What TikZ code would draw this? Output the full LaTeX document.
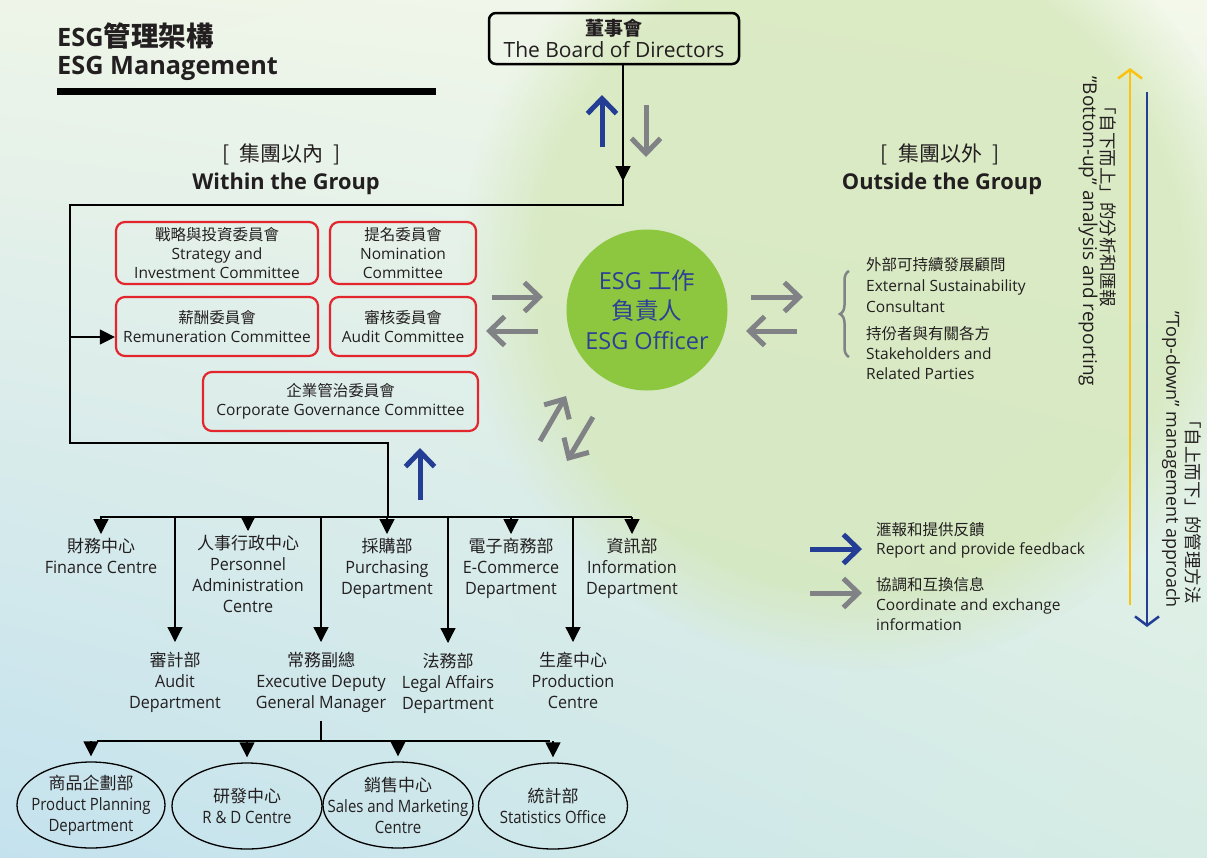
\documentclass[tikz,border=0pt]{standalone}
\usepackage{fontspec}
\setmainfont{Open Sans}
\newfontfamily\cjk{Noto Sans CJK TC}
\newfontfamily\cond{Open Sans}[FakeStretch=0.95]
\newfontfamily\condx{Open Sans}[FakeStretch=0.88]
\usetikzlibrary{arrows.meta,shapes.geometric,decorations.pathreplacing,fadings,shadings}
\definecolor{txt}{HTML}{231F20}
\definecolor{cred}{HTML}{E3262D}
\definecolor{garr}{HTML}{808285}
\definecolor{barr}{HTML}{233E94}
\definecolor{esggreen}{HTML}{8DC63F}
\definecolor{esgblue}{HTML}{2E3F96}
\definecolor{ylw}{HTML}{FBC20F}
\definecolor{bgUL}{HTML}{EEF5E8}
\definecolor{bgUR}{HTML}{F3F8EA}
\definecolor{bgLL}{HTML}{C4E2EE}
\definecolor{bgLR}{HTML}{D6ECE4}
\definecolor{blob}{HTML}{D4E7B8}
\begin{document}
\begin{tikzpicture}[x=1pt,y=-1pt,
  every node/.style={inner sep=0pt,text=txt},
  cbox/.style={draw=cred,line width=2.2pt,rounded corners=9pt,align=center,font=\fontsize{15.5}{19}\selectfont},
  dept/.style={align=center,font=\cond\fontsize{17}{21}\selectfont,anchor=north},
  oval/.style={ellipse,draw=black,line width=1.3pt,minimum width=150pt,minimum height=86pt,inner xsep=-20pt,inner ysep=-4pt,align=center,font=\condx\fontsize{17}{21}\selectfont},
  ln/.style={draw=black,line width=1.3pt},
  tri/.style={ln,-{Triangle[length=15pt,width=15pt]}},
  garrow/.style={draw=garr,line width=5pt,-{Straight Barb[length=15pt,width=29pt]}},
  barrow/.style={draw=barr,line width=5pt,-{Straight Barb[length=15pt,width=29pt]}},
  side/.style={align=left,anchor=north west,font=\fontsize{15.5}{21}\selectfont},
  vtext/.style={rotate=-90,font=\fontsize{18}{18}\selectfont},
  vcjk/.style={rotate=-90,font=\cjk\fontsize{17.5}{18}\selectfont},
]
% background
\useasboundingbox (0,0) rectangle (1207,857);
\shade[upper left=bgUL,upper right=bgUR,lower left=bgLL,lower right=bgLR] (0,0) rectangle (1207,857);
\fill[blob,path fading=circle with fuzzy edge 20 percent,opacity=0.75] (860,270) circle (400);

% title
\node[anchor=base west,font=\bfseries\fontsize{25.3}{25}\selectfont] (t1) at (57,46) {ESG{\cjk\bfseries\fontsize{27.5}{27}\selectfont 管理架構}};
\node[anchor=base west,font=\bfseries\fontsize{25.3}{25}\selectfont] (t2) at (57,74) {ESG Management};
\fill[black] (57,88) rectangle (436,95);

% board
\node[draw=black,line width=2.5pt,rounded corners=7pt,minimum width=250pt,minimum height=51pt,align=center,font=\fontsize{21}{22}\selectfont] (board) at (614,38.5) {{\cjk\bfseries\fontsize{19}{22}\selectfont 董事會}\\The Board of Directors};

% headers
\node[font=\cjk\fontsize{21}{21}\selectfont] (hin) at (282,154) {[\hspace{10pt}集團以內\hspace{10pt}]};
\node[font=\bfseries\fontsize{21.8}{22}\selectfont] (hin2) at (286,184) {Within the Group};
\node[font=\cjk\fontsize{21}{21}\selectfont] (hout) at (940,154) {[\hspace{10pt}集團以外\hspace{10pt}]};
\node[font=\bfseries\fontsize{21.8}{22}\selectfont] (hout2) at (942,184) {Outside the Group};

% committees
\node[cbox,minimum width=202pt,minimum height=62pt] (strat) at (217,253) {{\cjk 戰略與投資委員會}\\Strategy and\\Investment Committee};
\node[cbox,minimum width=146pt,minimum height=62pt] (nom) at (403,253) {{\cjk 提名委員會}\\Nomination\\Committee};
\node[cbox,minimum width=202pt,minimum height=59pt] (rem) at (217,326.5) {{\cjk 薪酬委員會}\\Remuneration Committee};
\node[cbox,minimum width=146pt,minimum height=59pt] (aud) at (403,326.5) {{\cjk 審核委員會}\\Audit Committee};
\node[cbox,minimum width=275pt,minimum height=59pt] (cg) at (340.5,401.5) {{\cjk 企業管治委員會}\\Corporate Governance Committee};

% ESG officer
\node[circle,fill=esggreen,minimum size=161pt,align=center,text=esgblue,font=\fontsize{23.5}{30}\selectfont] (esg) at (647,310) {ESG {\cjk 工作}\\{\cjk 負責人}\\ESG Officer};

% frame from board
\coordinate (ftop) at (623,205);
\coordinate (fl1) at (70,205);
\coordinate (fl2) at (70,443);
\coordinate (fr) at (388,443);
\coordinate (barL) at (100,517);
\coordinate (barR) at (632,517);
\coordinate (barM) at (388,517);
\coordinate (remL) at (70,337);
\draw[ln] (board.south -| ftop) -- (ftop) -- (fl1) -- (fl2) -- (fr) -- (barM);
\draw[tri] (board.south -| ftop) -- (623,181);
\draw[tri] (remL) -- (rem.west |- remL);

% board arrows
\draw[barrow] (602,147) -- (602,95);
\draw[garrow] (646,105) -- (646,157);
\draw[barrow] (420,500) -- (420,448);

% coordination arrows
\draw[garrow] (492,297) -- (543,297);
\draw[garrow] (538,331) -- (486,331);
\draw[garrow] (751,297) -- (803,297);
\draw[garrow] (797,331) -- (746,331);
\draw[garrow] (540,441) -- (566,396);
\draw[garrow] (593,417) -- (567,461);

% outside group
\draw[draw=garr,line width=2.5pt,decorate,decoration={brace,amplitude=9pt}] (849,357) -- (849,271);
\node[side] (ext) at (866,257) {{\cjk 外部可持續發展顧問}\\External Sustainability\\Consultant};
\node[side,font=\fontsize{15.5}{20}\selectfont] (stk) at (866,326) {{\cjk 持份者與有關各方}\\Stakeholders and\\Related Parties};

% right vertical arrows
\draw[draw=ylw,line width=2.5pt,-{Straight Barb[length=9pt,width=24pt]}] (1130,605) -- (1130,68);
\draw[draw=barr,line width=2.5pt,-{Straight Barb[length=9pt,width=24pt]}] (1147,92) -- (1147,627);
\node[vcjk,anchor=west] (bu1) at (1108,97) {「自下而上」的分析和匯報};
\node[vtext,anchor=west,font=\fontsize{19}{19}\selectfont] (bu2) at (1088,76) {”Bottom-up” analysis and reporting};
\node[vcjk,anchor=east] (td1) at (1193,604) {「自上而下」的管理方法};
\node[vtext,anchor=east] (td2) at (1171,608) {”Top-down” management approach};

% legend
\draw[barrow] (810,549) -- (862,549);
\draw[garrow] (810,593) -- (862,593);
\node[side,font=\fontsize{15.5}{19}\selectfont] (lg1) at (876,522) {{\cjk 滙報和提供反饋}\\Report and provide feedback};
\node[side,font=\fontsize{15.5}{20}\selectfont] (lg2) at (876,577) {{\cjk 協調和互換信息}\\Coordinate and exchange\\information};

% departments row 1
\node[dept] (fin) at (101,538) {{\cjk 財務中心}\\Finance Centre};
\node[dept] (per) at (248,535) {{\cjk 人事行政中心}\\Personnel\\Administration\\Centre};
\node[dept] (pur) at (387,538) {{\cjk 採購部}\\Purchasing\\Department};
\node[dept] (eco) at (511,538) {{\cjk 電子商務部}\\E-Commerce\\Department};
\node[dept] (inf) at (632,538) {{\cjk 資訊部}\\Information\\Department};
% row 2
\node[dept] (audd) at (175,652) {{\cjk 審計部}\\Audit\\Department};
\node[dept] (egm) at (321,652) {{\cjk 常務副總}\\Executive Deputy\\General Manager};
\node[dept] (leg) at (448,653) {{\cjk 法務部}\\Legal Affairs\\Department};
\node[dept] (pro) at (573,652) {{\cjk 生產中心}\\Production\\Centre};

\draw[ln] (barL) -- (barR);
\foreach \n in {fin,per,pur,eco,inf}{
  \draw[tri,shorten >=4pt] (\n.north |- barL) -- (\n.north);
}
\foreach \n in {audd,egm,leg,pro}{
  \draw[tri,shorten >=10pt] (\n.north |- barL) -- (\n.north);
}

% row 3
\node[oval,minimum width=148pt] (pp) at (91,805) {{\cjk 商品企劃部}\\Product Planning\\Department};
\node[oval] (rd) at (247,806) {{\cjk 研發中心}\\R \& D Centre};
\node[oval] (sm) at (398,805) {{\cjk 銷售中心}\\Sales and Marketing\\Centre};
\node[oval,minimum width=149pt] (st) at (553,806) {{\cjk 統計部}\\Statistics Office};
\coordinate (bar2) at (321,741);
\coordinate (bar2L) at (97,741);
\coordinate (bar2R) at (550,741);
\draw[ln,shorten <=8pt] (egm.south) -- (bar2);
\draw[ln] (bar2L) -- (bar2R);
\foreach \n in {pp,rd,sm,st}{
  \draw[tri,shorten >=5pt] (\n.north |- bar2) -- (\n.north);
}
\end{tikzpicture}
\end{document}
